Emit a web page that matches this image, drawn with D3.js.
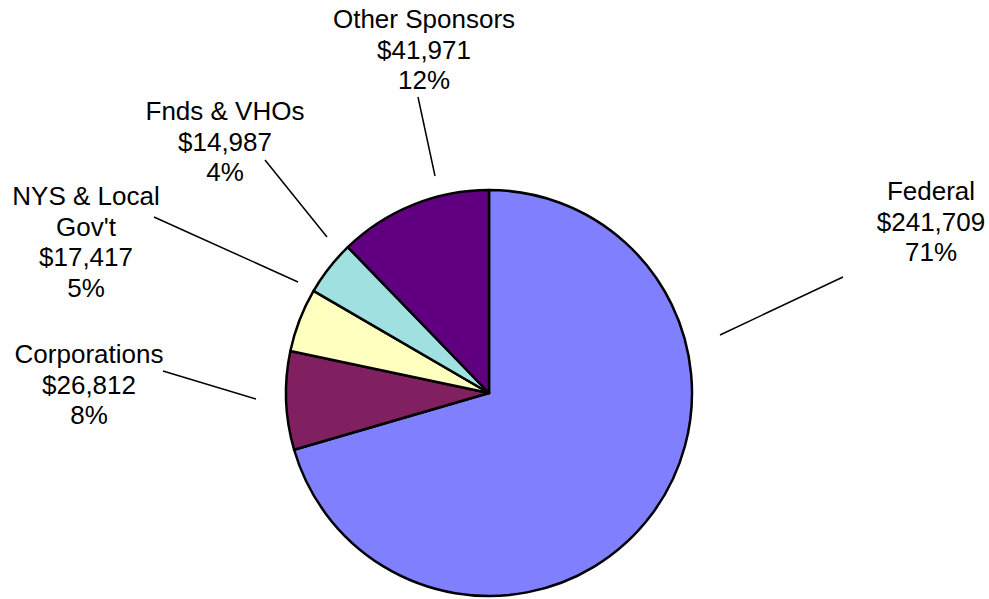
<!DOCTYPE html>
<html>
<head>
<meta charset="utf-8">
<script src="https://cdn.jsdelivr.net/npm/d3@7"></script>
<style>
  body { margin: 0; background: #fff; }
  text { font-family: "Liberation Sans", Arial, sans-serif; font-size: 26px; fill: #000; }
</style>
</head>
<body>
<script>
// data (thousands of $)
const categories = ['Federal', 'Corporations', "NYS & Local\nGov't", 'Fnds & VHOs', 'Other Sponsors'];
const amounts = [241709, 26812, 17417, 14987, 41971];
const percents = [71, 8, 5, 4, 12]; // as printed on the chart
const colors = ['#8080FF', '#802060', '#FFFFC0', '#A0E0E0', '#600080'];

// label placement: text centre x, first baseline y, leader line start/end
const labelLayout = [
    { x: 931, y: 200, line: [[843, 277], [720, 335]] },
    { x: 89,  y: 363, line: [[163, 371], [256, 399]] },
    { x: 86,  y: 205, line: [[154, 217], [298, 282]] },
    { x: 225, y: 120, line: [[265, 160], [327, 237]] },
    { x: 424, y: 28,  line: [[418, 97],  [435, 176]] }
];

const width = 989, height = 599;
const cx = 489, cy = 393, radius = 203;
const lineStep = 30.5;

const svg = d3.select('body').append('svg')
    .attr('width', width)
    .attr('height', height);

const pie = d3.pie().sort(null).value(d => d)
    .startAngle(0).endAngle(2 * Math.PI);
const arc = d3.arc().innerRadius(0).outerRadius(radius);

const arcs = pie(amounts);

const g = svg.append('g').attr('transform', `translate(${cx},${cy})`);

g.selectAll('path.slice')
    .data(arcs)
    .enter()
    .append('path')
    .attr('class', 'slice')
    .attr('d', arc)
    .attr('fill', (d, i) => colors[i])
    .attr('stroke', '#000')
    .attr('stroke-width', 2.5)
    .attr('stroke-linejoin', 'round');

// leader lines
svg.selectAll('line.leader')
    .data(labelLayout)
    .enter()
    .append('line')
    .attr('class', 'leader')
    .attr('x1', d => d.line[0][0])
    .attr('y1', d => d.line[0][1])
    .attr('x2', d => d.line[1][0])
    .attr('y2', d => d.line[1][1])
    .attr('stroke', '#000')
    .attr('stroke-width', 1.5);

const fmtMoney = d3.format(',');

const labels = svg.selectAll('text.lbl')
    .data(arcs)
    .enter()
    .append('text')
    .attr('class', 'lbl')
    .attr('text-anchor', 'middle');

labels.each(function(d, i) {
    const lines = categories[i].split('\n');
    lines.push('$' + fmtMoney(amounts[i]));
    lines.push(percents[i] + '%');
    const t = d3.select(this);
    lines.forEach((s, k) => {
        t.append('tspan')
            .attr('x', labelLayout[i].x)
            .attr('y', labelLayout[i].y + k * lineStep)
            .text(s);
    });
});
</script>
</body>
</html>
